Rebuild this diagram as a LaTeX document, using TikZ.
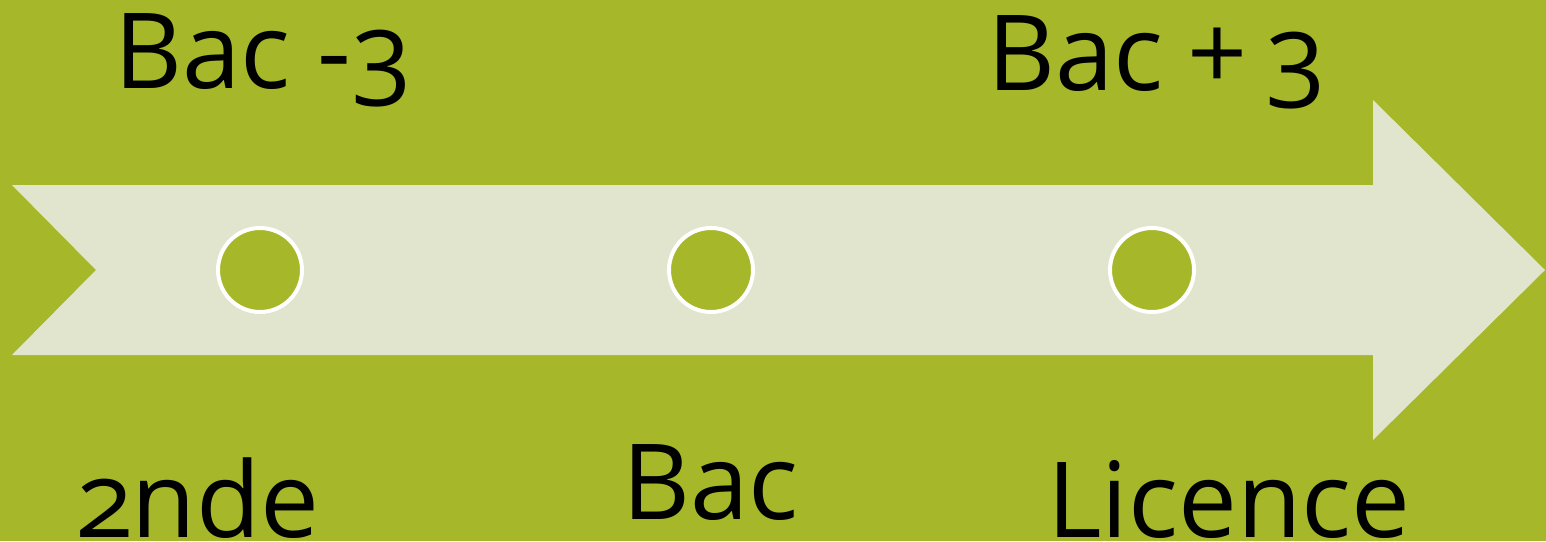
\documentclass[tikz,border=0pt]{standalone}
\usepackage{fontspec}
\setmainfont[Numbers=OldStyle]{Open Sans}
\definecolor{bg}{RGB}{166,183,42}
\definecolor{arrowfill}{RGB}{225,229,205}
\begin{document}
\begin{tikzpicture}[x=1pt,y=-1pt,
  dot/.style={circle,draw=white,line width=4pt,fill=bg,minimum size=84pt,inner sep=0pt},
  lbl/.style={anchor=base west,inner sep=0pt,font=\fontsize{105}{110}\selectfont,text=black},
  lowlbl/.style={lbl,text depth=0pt}]
\fill[bg] (0,0) rectangle (1546,541);
\useasboundingbox (0,0) rectangle (1546,541);
\fill[arrowfill] (12,185) -- (1373,185) -- (1373,100) -- (1545,270) -- (1373,440) -- (1373,355) -- (12,355) -- (96,270) -- cycle;
\node[dot] (d1) at (260,270) {};
\node[dot] (d2) at (711,270) {};
\node[dot] (d3) at (1152,270) {};
\node[lbl] (t1) at (114,88) {Bac -3};
\node[lbl] (t2) at (987,90) {Bac\kern-3pt{} +\kern-10pt{} 3};
\node[lowlbl] (b1) at (78,537) {2nde};
\node[lowlbl] (b2) at (622,519) {Bac};
\node[lowlbl] (b3) at (1047,537) {Licence};
\end{tikzpicture}
\end{document}
